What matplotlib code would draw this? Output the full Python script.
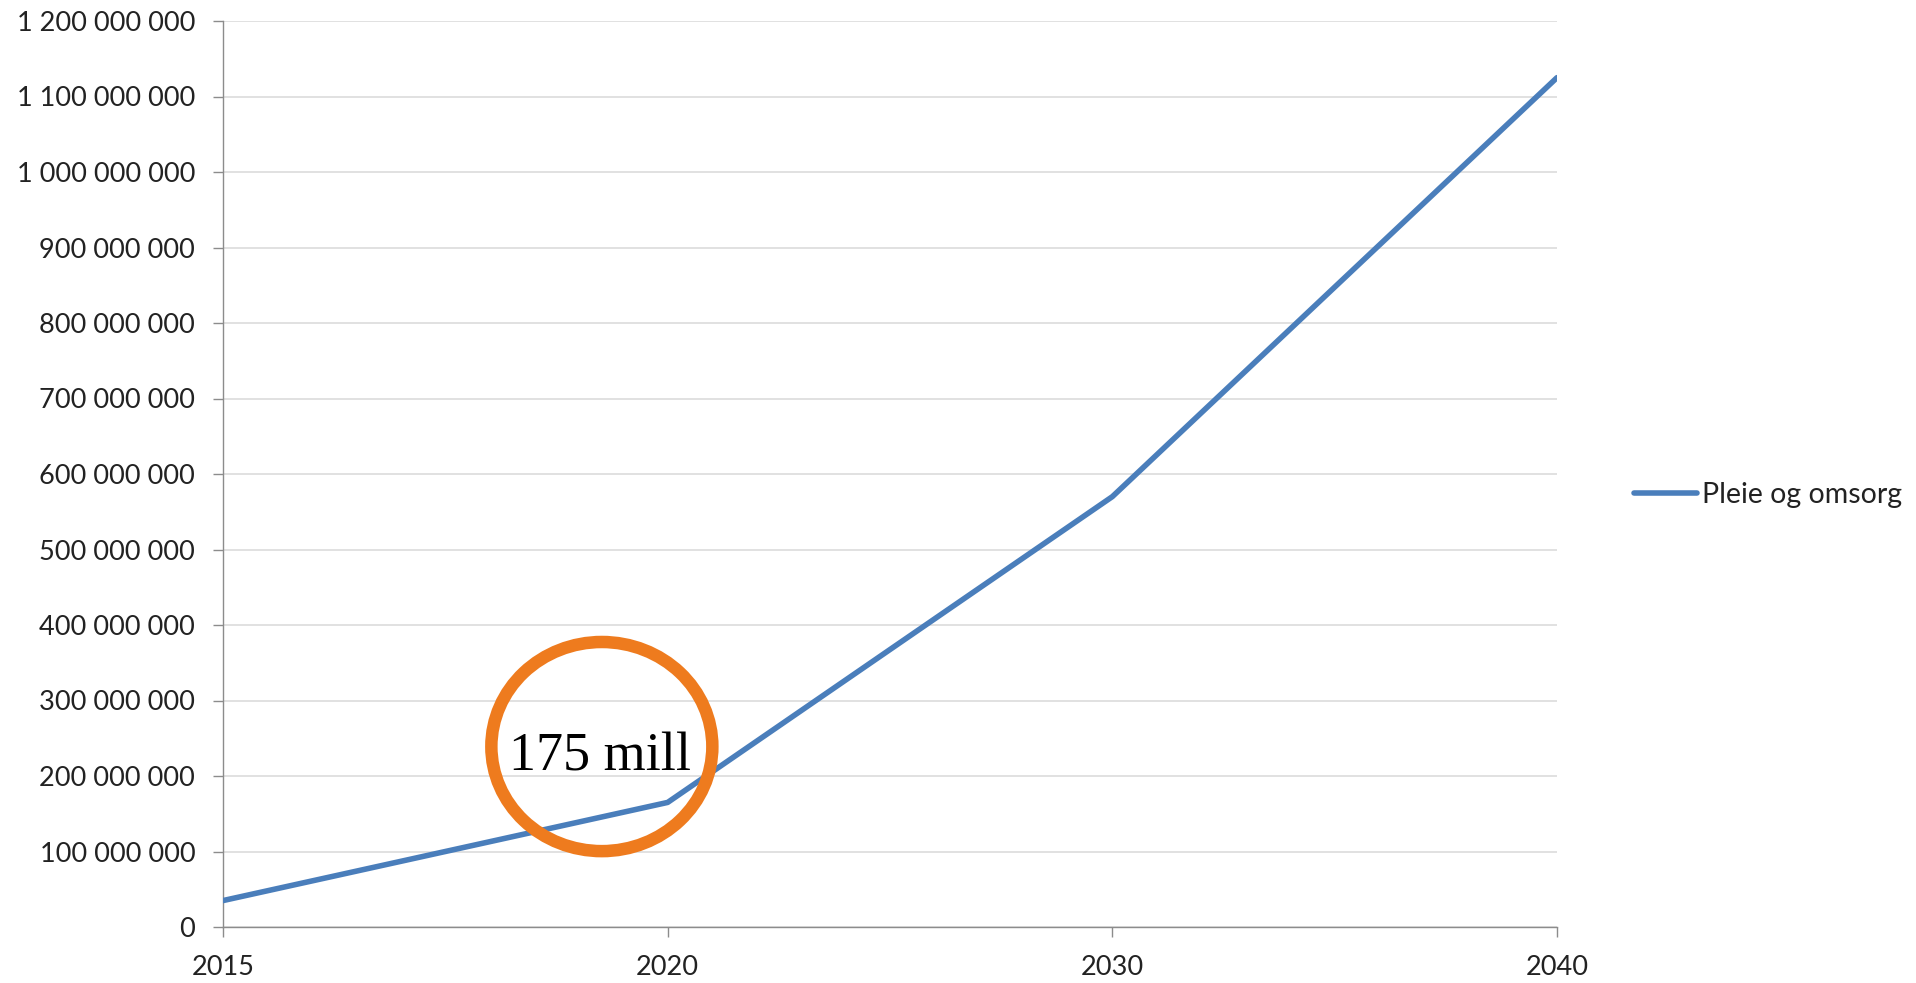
import matplotlib
matplotlib.use("Agg")
import matplotlib.pyplot as plt
from matplotlib.patches import Ellipse
from matplotlib.ticker import FuncFormatter, MultipleLocator

# Projected cost, care services (NOK)
years = ["2015", "2020", "2030", "2040"]
pleie_og_omsorg = [35_000_000, 165_000_000, 570_000_000, 1_125_000_000]
series_label = "Pleie og omsorg"
note_text = "175 mill"

plt.rcParams["font.family"] = ["Lato", "DejaVu Sans"]

fig = plt.figure(figsize=(19.16, 9.83), dpi=100)
ax = fig.add_axes([223 / 1916, 1 - 927 / 983, (1557 - 223) / 1916, (927 - 21) / 983])

x = list(range(len(years)))
ax.plot(x, pleie_og_omsorg, color="#4A7EBB", lw=4.0, solid_capstyle="round",
        label=series_label, zorder=3)

ax.set_xlim(0, len(years) - 1)
ax.set_ylim(0, 1_200_000_000)
ax.set_xticks(x)
ax.set_xticklabels(years)
ax.yaxis.set_major_locator(MultipleLocator(100_000_000))
ax.yaxis.set_major_formatter(FuncFormatter(lambda v, _: f"{int(v):,}".replace(",", " ")))

ax.grid(axis="y", color="#D9D9D9", lw=1.1, zorder=0)
for side in ("top", "right"):
    ax.spines[side].set_visible(False)
for side in ("left", "bottom"):
    ax.spines[side].set_color("#8C8C8C")
    ax.spines[side].set_linewidth(1.0)
ax.tick_params(axis="both", direction="out", length=7, width=1.0, color="#8C8C8C",
               labelsize=19.5, labelcolor="#222222", pad=13)

# Highlight around the 2020 level
ax.add_patch(Ellipse((0.852, 239_000_000), 0.497, 277_000_000, fill=False,
                     edgecolor="#EE7B1E", lw=9, zorder=4, clip_on=False))
ax.text(0.848, 225_000_000, note_text, family=["Liberation Serif", "DejaVu Serif"],
        fontsize=39, ha="center", va="center", color="black", zorder=5)

fig.legend(loc="center left", bbox_to_anchor=(1634 / 1916, 1 - 495 / 983),
           frameon=False, borderpad=0, borderaxespad=0, handlelength=2.2,
           handletextpad=0.2, fontsize=20.5, labelcolor="#222222")

fig.savefig("out.png", dpi=100)
